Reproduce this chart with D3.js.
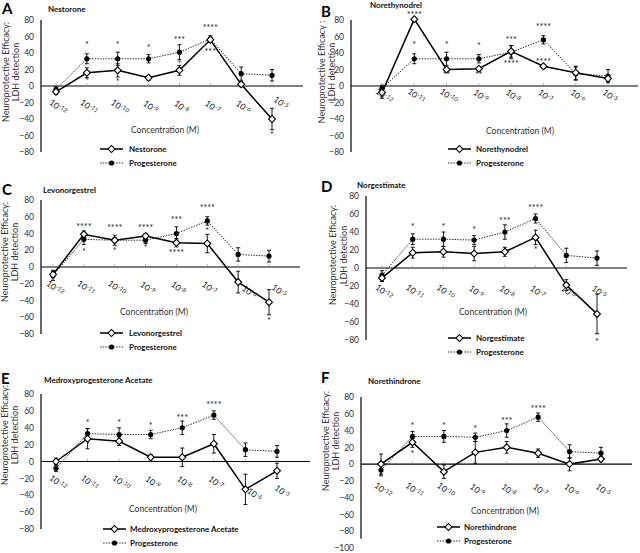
<!DOCTYPE html>
<html><head><meta charset="utf-8">
<script src="https://cdn.jsdelivr.net/npm/d3@7"></script>
<style>
html,body{margin:0;padding:0;background:#fff;}
text{font-family:Lato,"Open Sans",sans-serif;}
</style></head>
<body>
<script>
// ---------- DATA ----------
const categories = ["-12","-11","-10","-9","-8","-7","-6","-5"]; // exponent of 10 (M)
const yTicksStd = [80,60,40,20,0,-20,-40,-60,-80];
const yTicksF = [80,60,40,20,0,-20,-40,-60,-80,-100];

const nestorone       = [-7, 16, 19, 10, 19, 56, 2, -40];
const nestoroneErr    = [3, 6, 8, 3, 6, 3, 3, 13];
const progA           = [-4, 33, 33, 33, 41, 57, 15, 13];
const progAErr        = [3, 6, 8, 5, 9, 4, 8, 7];

const norethynodrel    = [-8, 81, 20, 21, 42, 24, 16, 9];
const norethynodrelErr = [7, 1, 2, 2, 7, 2, 8, 3];
const progB            = [-3, 33, 33, 33, 41, 56, 15, 12];
const progBErr         = [4, 6, 8, 5, 8, 5, 8, 8];

const levonorgestrel    = [-9, 39, 32, 37, 29, 28, -18, -42];
const levonorgestrelErr = [4, 4, 3, 3, 5, 11, 13, 15];
const progC             = [-10, 33, 32, 32, 40, 55, 15, 13];
const progCErr          = [6, 6, 6, 4, 8, 5, 8, 7];

const norgestimate    = [-11, 17, 18, 16, 18, 34, -19, -51];
const norgestimateErr = [4, 6, 6, 8, 5, 8, 6, 22];
const progD           = [-8, 32, 32, 31, 40, 55, 14, 11];
const progDErr        = [5, 6, 8, 5, 8, 5, 8, 8];

const mpa     = [0, 27, 24, 5, 5, 21, -33, -11];
const mpaErr  = [4, 12, 5, 3, 11, 11, 18, 9];
const progE   = [-8, 33, 32, 32, 40, 55, 14, 12];
const progEErr= [4, 6, 8, 5, 8, 5, 8, 7];

const norethindrone    = [0, 26, -9, 14, 20, 13, 0, 6];
const norethindroneErr = [12, 6, 8, 13, 7, 5, 8, 3];
const progF            = [-7, 33, 33, 32, 40, 56, 15, 13];
const progFErr         = [7, 6, 7, 5, 8, 5, 8, 7];

// significance marks: [category index, value level, text]
const starsA = [[1,51,"*"],[1,8,"*"],[2,51,"*"],[2,7,"*"],[3,48,"*"],[4,57,"***"],[4,29,"*"],[5,72,"****"],[5,43,"***"],[7,-58,"*"]];
const starsB = [[1,88,"****"],[1,52,"*"],[2,52,"*"],[2,15,"**"],[3,50,"*"],[3,15,"**"],[4,57,"***"],[4,29,"****"],[5,73,"****"],[5,31,"****"]];
const starsC = [[1,49,"****"],[1,20,"*"],[2,48,"****"],[2,21,"*"],[3,48,"****"],[3,24,"*"],[4,58,"***"],[4,19,"****"],[5,72,"****"],[5,45,"*"],[7,-63,"*"]];
const starsD = [[1,47,"*"],[2,47,"*"],[3,44,"*"],[4,54,"***"],[5,68,"****"],[5,22,"*"],[7,-81,"*"]];
const starsE = [[1,48,"*"],[1,21,"*"],[2,48,"*"],[3,44,"*"],[4,53,"***"],[5,69,"****"]];
const starsF = [[1,47,"*"],[1,14,"*"],[2,47,"*"],[3,44,"*"],[3,31,"*"],[4,53,"***"],[5,67,"****"]];

const compoundNames = ["Nestorone","Norethynodrel","Levonorgestrel","Norgestimate","Medroxyprogesterone Acetate","Norethindrone"];
const refName = "Progesterone";
const yLabel1 = ["Neuroprotective Efficacy:","Neuroprotective Efficacy :","Neuroprotective Efficacy:","Neuroprotective Efficacy:","Neuroprotective Efficacy:","Neuroprotective Efficacy:"];
const yLabel2 = "LDH detection";
const xTitle = "Concentration (M)";

// ---------- LAYOUT ----------
const panels = [
 {letter:"A", name:compoundNames[0], vals:nestorone, err:nestoroneErr, pv:progA, pe:progAErr, stars:starsA, ticks:yTicksStd,
  L:{lx:2,ly:14, tx:48,ty:12, axisX:41, tp:7, x0:56, x1:272, xEnd:303, yTop:20, yBot:152, dmin:-80, axMin:-80,
     labDy:21, nudge:{7:[7,-4]}, ylx:[5,15], yly:72, cx:165, cy:130, legX:100, legY:149, legTx:129}},
 {letter:"B", name:compoundNames[1], vals:norethynodrel, err:norethynodrelErr, pv:progB, pe:progBErr, stars:starsB, ticks:yTicksStd,
  L:{lx:321,ly:17, tx:370,ty:8, axisX:351, tp:7, x0:382, x1:608, xEnd:638, yTop:20, yBot:152, dmin:-80, axMin:-80,
     labDy:10, nudge:{}, ylx:[321,331], yly:72, cx:520, cy:131, legX:448, legY:149, legTx:476}},
 {letter:"C", name:compoundNames[2], vals:levonorgestrel, err:levonorgestrelErr, pv:progC, pe:progCErr, stars:starsC, ticks:yTicksStd,
  L:{lx:2,ly:195, tx:43,ty:193, axisX:41, tp:7, x0:53, x1:269, xEnd:300, yTop:200, yBot:334, dmin:-80, axMin:-80,
     labDy:21, nudge:{6:[9,4],7:[8,3]}, ylx:[4,14], yly:252, cx:154, cy:312, legX:100, legY:333, legTx:129}},
 {letter:"D", name:compoundNames[3], vals:norgestimate, err:norgestimateErr, pv:progD, pe:progDErr, stars:starsD, ticks:yTicksStd,
  L:{lx:321,ly:192, tx:357,ty:188, axisX:366, tp:7, x0:382, x1:597, xEnd:627, yTop:196, yBot:340, dmin:-80, axMin:-80,
     labDy:24, nudge:{}, ylx:[332,343], yly:255, cx:493, cy:312, legX:448, legY:338, legTx:476}},
 {letter:"E", name:compoundNames[4], vals:mpa, err:mpaErr, pv:progE, pe:progEErr, stars:starsE, ticks:yTicksStd,
  L:{lx:1,ly:384, tx:44,ty:383, axisX:41, tp:7, x0:56, x1:277, xEnd:310, yTop:394, yBot:529, dmin:-80, axMin:-80,
     labDy:21, nudge:{6:[7,12],7:[3,9]}, ylx:[4,14], yly:435, cx:163, cy:509, legX:103, legY:529, legTx:130}},
 {letter:"F", name:compoundNames[5], vals:norethindrone, err:norethindroneErr, pv:progF, pe:progFErr, stars:starsF, ticks:yTicksF,
  L:{lx:321,ly:383, tx:368,ty:384, axisX:361, tp:7, x0:381, x1:601, xEnd:632, yTop:397, yBot:548, dmin:-100, axMin:-89,
     labDy:26, nudge:{}, ylx:[325,335], yly:441, cx:505, cy:511, legX:437, legY:527, legTx:464}}
];

const svg = d3.select("body").append("svg").attr("width",640).attr("height",553);
svg.append("rect").attr("width",640).attr("height",553).attr("fill","#fff");

const diamond = d3.symbol().type(d3.symbolSquare).size(24);

panels.forEach((p, pi) => {
  const L = p.L;
  const g = svg.append("g");
  const x = d3.scalePoint().domain(categories).range([L.x0, L.x1]).padding(0);
  const y = d3.scaleLinear().domain([L.dmin, 80]).range([L.yBot, L.yTop]);

  // letter + title
  g.append("text").attr("x",L.lx).attr("y",L.ly).text(p.letter)
    .attr("font-family","Liberation Sans, Arial, sans-serif").attr("font-weight","bold").attr("font-size",15).attr("fill","#000");
  g.append("text").attr("x",L.tx).attr("y",L.ty).text(p.name)
    .attr("font-weight","bold").attr("font-size",8).attr("fill","#111");

  // y axis
  const ya = d3.axisLeft(y).tickValues(p.ticks).tickSize(0).tickPadding(L.tp).tickFormat(d3.format("d"));
  const yg = g.append("g").attr("transform",`translate(${L.axisX},0)`).call(ya);
  yg.select(".domain").remove();
  yg.selectAll("text").attr("font-size",8.5).attr("fill","#333").style("font-family","Lato, sans-serif");
  g.append("line").attr("x1",L.axisX).attr("x2",L.axisX).attr("y1",y(80)).attr("y2",y(L.axMin))
    .attr("stroke","#000").attr("stroke-width",1.2);

  // y labels
  [yLabel1[pi], yLabel2].forEach((t,i) => {
    g.append("text").attr("transform",`translate(${L.ylx[i]},${L.yly}) rotate(-90)`)
      .attr("text-anchor","middle").attr("dominant-baseline","central")
      .attr("font-size",9).attr("fill","#333").text(t);
  });

  // zero line + ticks
  g.append("line").attr("x1",L.axisX).attr("x2",L.xEnd).attr("y1",y(0)).attr("y2",y(0))
    .attr("stroke","#000").attr("stroke-width",1.2);
  g.selectAll(".xt").data(categories).enter().append("line")
    .attr("x1",d=>x(d)).attr("x2",d=>x(d)).attr("y1",y(0)).attr("y2",y(0)-3)
    .attr("stroke","#888").attr("stroke-width",0.6);

  // x tick labels
  categories.forEach((c,i) => {
    const n = L.nudge[i] || [0,0];
    const t = g.append("text")
      .attr("transform",`translate(${x(c)+2+n[0]},${y(0)+L.labDy+n[1]}) rotate(38)`)
      .attr("text-anchor","middle").attr("dominant-baseline","central")
      .attr("font-size",8.5).attr("fill","#222");
    t.append("tspan").text("10");
    t.append("tspan").attr("dy",-3).attr("font-size",6).text(c);
  });

  // x title
  g.append("text").attr("x",L.cx).attr("y",L.cy+3).attr("text-anchor","middle")
    .attr("font-size",8.5).attr("fill","#333").text(xTitle);

  const line = d3.line().x((d,i)=>x(categories[i])).y(d=>y(d));

  // progesterone series
  g.append("path").datum(p.pv).attr("d",line).attr("fill","none")
    .attr("stroke","#333").attr("stroke-width",1).attr("stroke-dasharray","1.5,1.2");
  // compound series line
  g.append("path").datum(p.vals).attr("d",line).attr("fill","none")
    .attr("stroke","#000").attr("stroke-width",1.5);

  function errBars(vals, errs){
    vals.forEach((v,i) => {
      const cx = x(categories[i]), e = errs[i];
      g.append("line").attr("x1",cx).attr("x2",cx).attr("y1",y(v-e)).attr("y2",y(v+e)).attr("stroke","#000").attr("stroke-width",0.9);
      [v-e, v+e].forEach(w => g.append("line").attr("x1",cx-2).attr("x2",cx+2).attr("y1",y(w)).attr("y2",y(w)).attr("stroke","#000").attr("stroke-width",0.9));
    });
  }
  errBars(p.pv, p.pe);
  errBars(p.vals, p.err);

  g.selectAll(".pdot").data(p.pv).enter().append("circle")
    .attr("cx",(d,i)=>x(categories[i])).attr("cy",d=>y(d)).attr("r",2.6).attr("fill","#000");
  g.selectAll(".cdia").data(p.vals).enter().append("path")
    .attr("d",diamond).attr("transform",(d,i)=>`translate(${x(categories[i])},${y(d)}) rotate(45)`)
    .attr("fill","#fff").attr("stroke","#000").attr("stroke-width",1.1);

  // stars
  p.stars.forEach(s => {
    g.append("text").attr("x",x(categories[s[0]])).attr("y",y(s[1])+4.5)
      .attr("text-anchor","middle").attr("font-size",9).attr("fill","#222").text(s[2]);
  });

  // legend
  const lx = L.legX, ly = L.legY;
  g.append("line").attr("x1",lx).attr("x2",lx+23).attr("y1",ly).attr("y2",ly).attr("stroke","#000").attr("stroke-width",1.5);
  g.append("path").attr("d",diamond).attr("transform",`translate(${lx+11.5},${ly}) rotate(45)`)
    .attr("fill","#fff").attr("stroke","#000").attr("stroke-width",1.1);
  g.append("text").attr("x",L.legTx).attr("y",ly+3).attr("font-size",8).attr("font-weight","bold").attr("fill","#111").text(p.name);
  const ly2 = ly + 14;
  g.append("line").attr("x1",lx).attr("x2",lx+23).attr("y1",ly2).attr("y2",ly2).attr("stroke","#333").attr("stroke-width",1).attr("stroke-dasharray","1.5,1.2");
  g.append("circle").attr("cx",lx+11.5).attr("cy",ly2).attr("r",2.6).attr("fill","#000");
  g.append("text").attr("x",L.legTx).attr("y",ly2+3).attr("font-size",8).attr("font-weight","bold").attr("fill","#111").text(refName);
});
</script>
</body></html>
